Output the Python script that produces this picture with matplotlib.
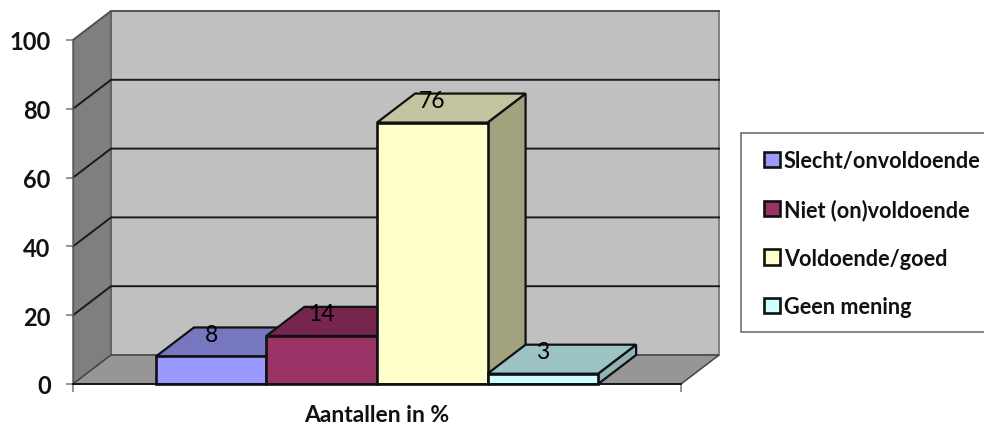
import matplotlib
matplotlib.use("Agg")
import matplotlib.pyplot as plt
from matplotlib.patches import Polygon, Rectangle

plt.rcParams["font.family"] = ["Lato", "DejaVu Sans"]

# Survey answers, in percent
categories = ["Slecht/onvoldoende", "Niet (on)voldoende", "Voldoende/goed", "Geen mening"]
values = [8, 14, 76, 3]
value_ticks = [0, 20, 40, 60, 80, 100]
axis_label = "Aantallen in %"

front_colors = ["#9999FF", "#993366", "#FFFFCC", "#CCFFFF"]
top_colors = ["#7777BF", "#76264E", "#C4C4A0", "#9CC4C4"]
side_colors = ["#7777BF", "#76264E", "#A2A27F", "#8DB3B3"]

# Oblique offset of the back plane, in category and percent units
DEPTH_X = 0.344
DEPTH_Y = 8.43
X_MIN, X_MAX = -0.75, 4.75
EDGE = "#111111"

fig = plt.figure(figsize=(9.84, 4.27), dpi=100)
ax = fig.add_axes([73 / 984, 42 / 427, 608 / 984, 344 / 427])
ax.patch.set_visible(False)


def back(x, y):
    return (x + DEPTH_X, y + DEPTH_Y)


def face(points, color, z, edge=EDGE, lw=1.6, ls="-"):
    poly = Polygon(points, closed=True, facecolor=color, edgecolor=edge,
                   linewidth=lw, linestyle=ls, clip_on=False, zorder=z,
                   joinstyle="miter")
    ax.add_patch(poly)
    return poly


# Walls and floor of the box
top = value_ticks[-1]
face([back(X_MIN, 0), back(X_MAX, 0), back(X_MAX, top), back(X_MIN, top)],
     "#C0C0C0", 0.2, edge="#7A7A7A", lw=1.3)
face([(X_MIN, 0), back(X_MIN, 0), back(X_MIN, top), (X_MIN, top)],
     "#7F7F7F", 0.3, edge="#5A5A5A", lw=1.0)
face([(X_MIN, 0), (X_MAX, 0), back(X_MAX, 0), back(X_MIN, 0)],
     "#969696", 0.3, edge="#444444", lw=1.1)

# Gridlines run along the side wall and across the back wall
for tick in value_ticks[1:]:
    bx, by = back(X_MIN, tick)
    ex, _ = back(X_MAX, tick)
    color = "#555555" if tick == top else "#1A1A1A"
    ax.plot([X_MIN, bx, ex], [tick, by, by], color=color, lw=1.4,
            clip_on=False, zorder=0.5, solid_joinstyle="miter")

# Bars: each one is drawn over the side of its left neighbour
for i, (name, v) in enumerate(zip(categories, values)):
    z = 2 + i
    face([(i + 1, 0), back(i + 1, 0), back(i + 1, v), (i + 1, v)], side_colors[i], z)
    face([(i, v), (i + 1, v), back(i + 1, v), back(i, v)], top_colors[i], z)
    ax.bar(i, v, width=1, align="edge", color=front_colors[i], edgecolor=EDGE,
           linewidth=1.9, label=name, zorder=z + 0.1, clip_on=False)
    ax.annotate(str(v), xy=(i + 0.5, v), xytext=(0, 15.8),
                textcoords="offset points", ha="center", va="center",
                fontsize=16.5, color="#000000", zorder=10)

ax.set_xlim(X_MIN, X_MAX)
ax.set_ylim(0, top)

ax.set_yticks(value_ticks)
ax.set_xticks([X_MIN, X_MAX])
ax.set_xticklabels(["", ""])
ax.tick_params(axis="y", length=5, width=1.1, color="#777777", pad=11,
               labelsize=17, labelcolor="#111111")
ax.tick_params(axis="x", length=6, width=1.1, color="#777777")
for label in ax.get_yticklabels():
    label.set_fontweight("bold")

ax.set_xlabel(axis_label, fontsize=16.5, fontweight="bold", color="#111111", labelpad=5)

for side in ("top", "right"):
    ax.spines[side].set_visible(False)
ax.spines["left"].set_color("#555555")
ax.spines["bottom"].set_color("#111111")
ax.spines["bottom"].set_linewidth(1.3)
ax.spines["bottom"].set_zorder(8)

# The legend frame runs off the right edge of the figure
fig.add_artist(Rectangle((741 / 984, 1 - 333 / 427), 260 / 984, 199 / 427,
                         transform=fig.transFigure, facecolor="white",
                         edgecolor="#666666", linewidth=1.1))
legend = ax.legend(
    loc="upper left", bbox_to_anchor=(764 / 984, 1 - 151 / 427),
    bbox_transform=fig.transFigure, borderaxespad=0, borderpad=0,
    labelspacing=1.27, handlelength=0.72, handleheight=0.72, handletextpad=0.2,
    prop={"family": "Lato", "weight": "bold", "size": 15.6}, frameon=False,
)
legend.remove()
fig.add_artist(legend)
for text in legend.get_texts():
    text.set_color("#111111")

fig.savefig("out.png", dpi=100)
